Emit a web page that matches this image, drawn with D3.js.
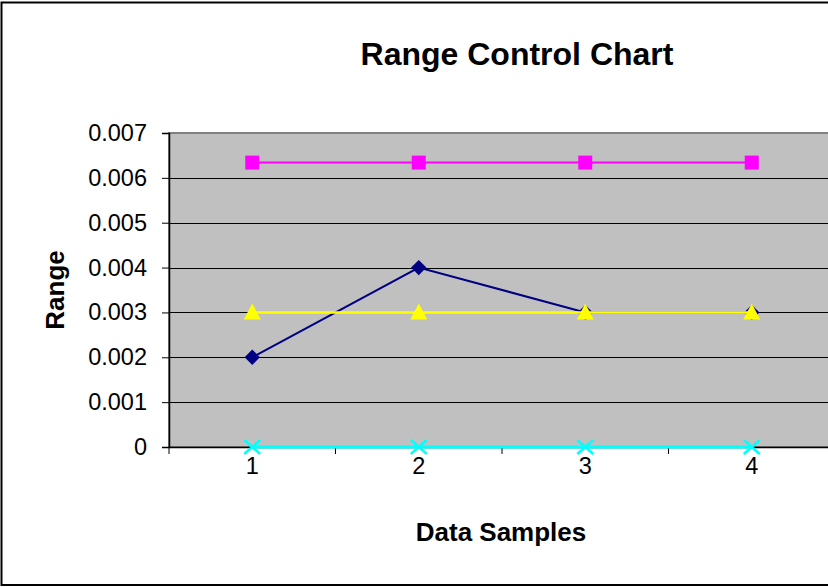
<!DOCTYPE html>
<html>
<head>
<meta charset="utf-8">
<script src="https://cdn.jsdelivr.net/npm/d3@7"></script>
<style>
  body { margin: 0; background: #fff; }
  svg { display: block; font-family: Arial, "Liberation Sans", sans-serif; }
</style>
</head>
<body>
<div id="chart"></div>
<script>
const samples = [1, 2, 3, 4];
const rangeValues = [0.002, 0.004, 0.003, 0.003];
const uclValues = [0.00634, 0.00634, 0.00634, 0.00634];
const clValues = [0.003, 0.003, 0.003, 0.003];
const lclValues = [0, 0, 0, 0];
const yTicks = [0, 0.001, 0.002, 0.003, 0.004, 0.005, 0.006, 0.007];

const width = 828, height = 587;
const plot = { left: 169, right: 835, top: 133, bottom: 447 };

const svg = d3.select('#chart').append('svg')
  .attr('width', width).attr('height', height);

// outer chart frame
svg.append('rect')
  .attr('x', 1.5).attr('y', 2.5).attr('width', width + 10).attr('height', height - 4.5)
  .attr('fill', '#fff').attr('stroke', '#000').attr('stroke-width', 2);

const x = d3.scaleBand().domain(samples).range([plot.left, plot.right]).padding(0);
const y = d3.scaleLinear().domain([0, 0.007]).range([plot.bottom, plot.top]);
const cx = d => x(d) + x.bandwidth() / 2;

svg.append('rect')
  .attr('x', plot.left).attr('y', plot.top)
  .attr('width', plot.right - plot.left).attr('height', plot.bottom - plot.top)
  .attr('fill', '#c0c0c0').attr('stroke', '#808080').attr('stroke-width', 2);

// gridlines
svg.append('g').selectAll('line')
  .data(yTicks.filter(t => t > 0 && t < 0.007))
  .enter().append('line')
  .attr('x1', plot.left).attr('x2', plot.right)
  .attr('y1', d => Math.round(y(d)) + 0.5).attr('y2', d => Math.round(y(d)) + 0.5)
  .attr('stroke', '#000').attr('stroke-width', 1);

// y axis
const yAxis = svg.append('g')
  .attr('transform', `translate(${plot.left},0)`)
  .call(d3.axisLeft(y).tickValues(yTicks).tickSize(7).tickPadding(15)
    .tickFormat(d => d === 0 ? '0' : d3.format('.3f')(d)));
yAxis.select('.domain').attr('stroke', '#000').attr('stroke-width', 1.5);
yAxis.selectAll('.tick line').attr('stroke', '#000');
yAxis.selectAll('.tick text').attr('font-size', 23.5).attr('fill', '#000')
  .attr('font-family', 'Arial, "Liberation Sans", sans-serif');

// x axis
const xAxis = svg.append('g')
  .attr('transform', `translate(0,${plot.bottom})`)
  .call(d3.axisBottom(x).tickSize(0).tickPadding(10));
xAxis.select('.domain').attr('stroke', '#000').attr('stroke-width', 1.5);
xAxis.selectAll('.tick text').attr('font-size', 23.5).attr('fill', '#000')
  .attr('font-family', 'Arial, "Liberation Sans", sans-serif');
svg.append('g').selectAll('line')
  .data(d3.range(samples.length + 1))
  .enter().append('line')
  .attr('x1', i => plot.left + i * x.bandwidth()).attr('x2', i => plot.left + i * x.bandwidth())
  .attr('y1', plot.bottom).attr('y2', plot.bottom + 7)
  .attr('stroke', '#000');

const line = d3.line().x((d, i) => cx(samples[i])).y(d => y(d));

function series(values, color, width, marker) {
  svg.append('path').datum(values)
    .attr('d', line).attr('fill', 'none')
    .attr('stroke', color).attr('stroke-width', width);
  const g = svg.append('g');
  values.forEach((v, i) => {
    const px = cx(samples[i]), py = y(v);
    if (marker === 'diamond') {
      g.append('path').attr('d', d3.symbol(d3.symbolDiamond2, 150)())
        .attr('transform', `translate(${px},${py})`).attr('fill', color);
    } else if (marker === 'square') {
      g.append('rect').attr('x', px - 7).attr('y', py - 7)
        .attr('width', 14).attr('height', 14).attr('fill', color);
    } else if (marker === 'triangle') {
      g.append('path').attr('d', `M${px},${py - 9}L${px + 8.5},${py + 7}L${px - 8.5},${py + 7}Z`)
        .attr('fill', color);
    } else if (marker === 'x') {
      g.append('path').attr('d', `M${px - 8},${py - 7}L${px + 8},${py + 7}M${px + 8},${py - 7}L${px - 8},${py + 7}`)
        .attr('stroke', color).attr('stroke-width', 2.5).attr('fill', 'none');
    }
  });
}

series(rangeValues, '#000080', 2, 'diamond');
series(uclValues, '#ff00ff', 2, 'square');
series(clValues, '#ffff00', 2.5, 'triangle');
series(lclValues, '#00ffff', 3, 'x');

// titles
svg.append('text').attr('x', 517).attr('y', 65).attr('text-anchor', 'middle')
  .attr('font-size', 32).attr('font-weight', 'bold').text('Range Control Chart');
svg.append('text').attr('x', 501).attr('y', 541).attr('text-anchor', 'middle')
  .attr('font-size', 26).attr('font-weight', 'bold').text('Data Samples');
svg.append('text').attr('transform', 'translate(64,290) rotate(-90)')
  .attr('text-anchor', 'middle')
  .attr('font-size', 26).attr('font-weight', 'bold').text('Range');
</script>
</body>
</html>
